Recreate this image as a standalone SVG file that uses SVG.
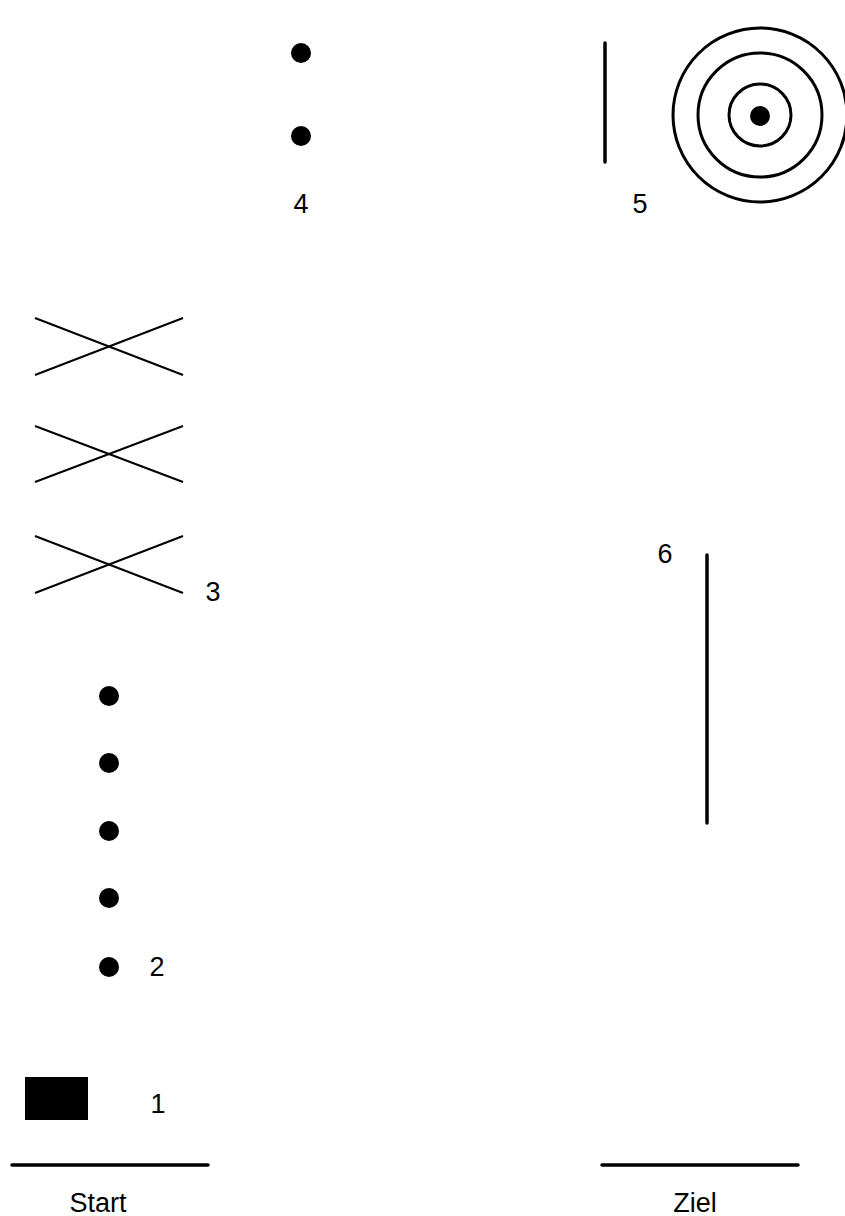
<svg xmlns="http://www.w3.org/2000/svg" width="845" height="1216" viewBox="0 0 845 1216">
<style>
.t{font-family:"Liberation Sans",Arial,sans-serif;font-size:27px;fill:#000;text-anchor:middle}
.dot{fill:#000}
.ln{stroke:#000;stroke-width:3.5;stroke-linecap:round;fill:none}
.x{stroke:#000;stroke-width:2;fill:none}
.ring{stroke:#000;stroke-width:3;fill:none}
</style>
<rect width="845" height="1216" fill="#fff"/>
<g id="node-4">
<circle class="dot" cx="301" cy="53" r="10"/>
<circle class="dot" cx="301" cy="136" r="10"/>
<text class="t" x="301" y="213">4</text>
</g>
<g id="node-5">
<line class="ln" x1="605" y1="43" x2="605" y2="162"/>
<circle class="ring" cx="760" cy="115" r="87"/>
<circle class="ring" cx="760" cy="115" r="62"/>
<circle class="ring" cx="760" cy="115" r="31"/>
<circle class="dot" cx="760" cy="116" r="10"/>
<text class="t" x="640" y="213">5</text>
</g>
<g id="node-3">
<line class="x" x1="35" y1="318" x2="183" y2="375"/>
<line class="x" x1="35" y1="375" x2="183" y2="318"/>
<line class="x" x1="35" y1="426" x2="183" y2="482"/>
<line class="x" x1="35" y1="482" x2="183" y2="426"/>
<line class="x" x1="35" y1="536" x2="183" y2="593"/>
<line class="x" x1="35" y1="593" x2="183" y2="536"/>
<text class="t" x="213" y="601">3</text>
</g>
<g id="node-6">
<line class="ln" x1="707" y1="555" x2="707" y2="823"/>
<text class="t" x="665" y="563">6</text>
</g>
<g id="node-2">
<circle class="dot" cx="109" cy="696" r="10"/>
<circle class="dot" cx="109" cy="763" r="10"/>
<circle class="dot" cx="109" cy="831" r="10"/>
<circle class="dot" cx="109" cy="898" r="10"/>
<circle class="dot" cx="109" cy="967" r="10"/>
<text class="t" x="157" y="976">2</text>
</g>
<g id="node-1">
<rect x="25" y="1077" width="63" height="43" fill="#000"/>
<text class="t" x="158" y="1113">1</text>
</g>
<g id="node-start">
<line class="ln" x1="12" y1="1165" x2="208" y2="1165"/>
<text class="t" x="98" y="1212">Start</text>
</g>
<g id="node-ziel">
<line class="ln" x1="602" y1="1165" x2="798" y2="1165"/>
<text class="t" x="695" y="1212">Ziel</text>
</g>
<g id="connectors"></g>
</svg>
